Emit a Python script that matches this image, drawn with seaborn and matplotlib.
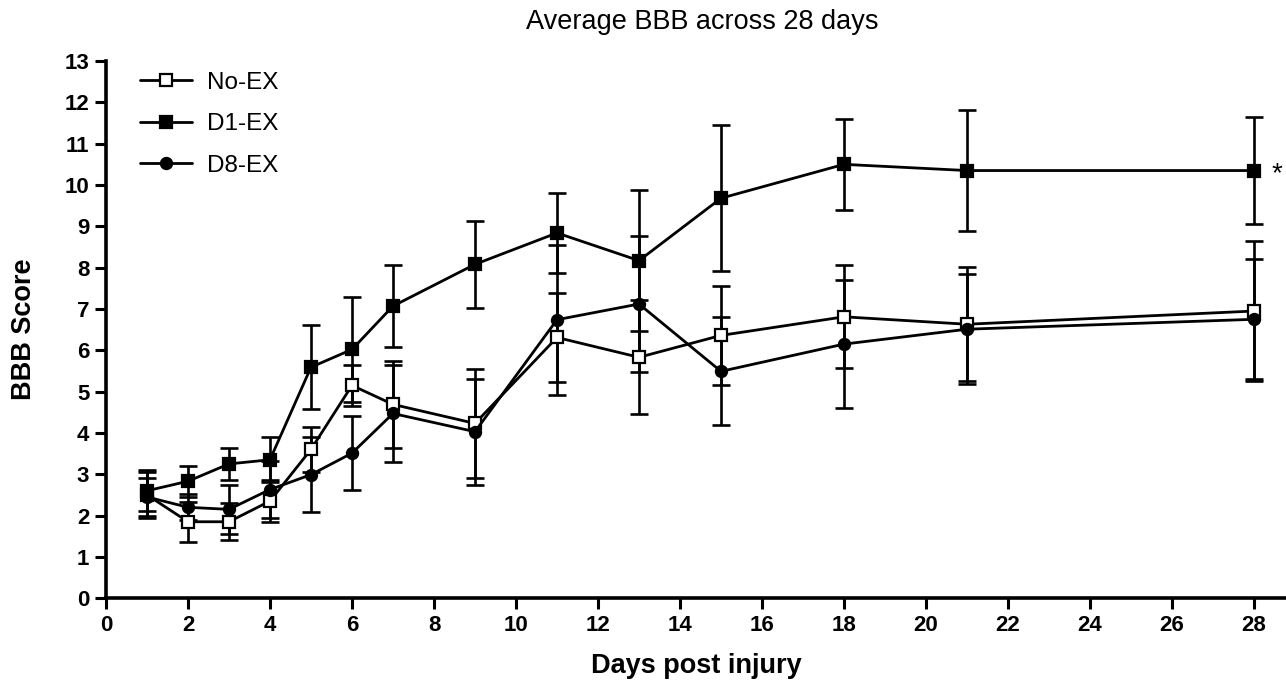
"""Average BBB score across 28 days for three exercise groups."""
import matplotlib
matplotlib.use('Agg')
import matplotlib.pyplot as plt
import seaborn as sns
import pandas as pd

days = [1, 2, 3, 4, 5, 6, 7, 9, 11, 13, 15, 18, 21, 28]

no_ex = [2.50, 1.85, 1.85, 2.35, 3.60, 5.15, 4.69, 4.23, 6.31, 5.83, 6.36, 6.81, 6.63, 6.95]
no_ex_err = [0.55, 0.48, 0.45, 0.50, 0.55, 0.50, 1.05, 1.32, 1.07, 1.38, 1.20, 1.25, 1.38, 1.70]

d1_ex = [2.60, 2.83, 3.25, 3.35, 5.59, 6.02, 7.07, 8.08, 8.84, 8.17, 9.68, 10.50, 10.35, 10.35]
d1_ex_err = [0.50, 0.38, 0.38, 0.54, 1.02, 1.27, 1.00, 1.05, 0.96, 1.71, 1.77, 1.10, 1.47, 1.30]

d8_ex = [2.45, 2.20, 2.15, 2.63, 2.99, 3.51, 4.47, 4.03, 6.74, 7.12, 5.49, 6.15, 6.51, 6.75]
d8_ex_err = [0.45, 0.31, 0.60, 0.70, 0.90, 0.90, 1.18, 1.28, 1.82, 1.65, 1.31, 1.54, 1.33, 1.45]

groups = ['No-EX', 'D1-EX', 'D8-EX']
means = [no_ex, d1_ex, d8_ex]
errs = [no_ex_err, d1_ex_err, d8_ex_err]

rows = []
for g, m, e in zip(groups, means, errs):
    for d, v, s in zip(days, m, e):
        rows.append({'day': d, 'score': v, 'sem': s, 'group': g})
df = pd.DataFrame(rows)

sns.set_style('ticks')
plt.rcParams['font.family'] = ['Liberation Sans', 'DejaVu Sans']
plt.rcParams.update({'text.color': 'black', 'axes.labelcolor': 'black',
                     'xtick.color': 'black', 'ytick.color': 'black',
                     'axes.edgecolor': 'black'})

fig = plt.figure(figsize=(12.86, 6.86), dpi=100)
ax = fig.add_axes([0.0824, 0.128, 0.9176, 0.783])

styles = {
    'No-EX': dict(marker='s', markerfacecolor='white', markersize=9),
    'D1-EX': dict(marker='s', markerfacecolor='black', markersize=9),
    'D8-EX': dict(marker='o', markerfacecolor='black', markersize=8),
}

for g in groups:
    sub = df[df['group'] == g]
    ax.errorbar(sub['day'], sub['score'], yerr=sub['sem'], fmt='none',
                ecolor='black', elinewidth=1.9, capsize=6.5, capthick=1.9, zorder=2)
    sns.lineplot(data=sub, x='day', y='score', ax=ax, color='black', linewidth=2,
                 markeredgecolor='black', markeredgewidth=1.6, label=g, zorder=3,
                 **styles[g])

ax.set_xlim(0, 28.78)
ax.set_ylim(0, 13)
ax.set_xticks(range(0, 29, 2))
ax.set_yticks(range(0, 14))
for lab in ax.get_xticklabels() + ax.get_yticklabels():
    lab.set_fontweight('bold')
    lab.set_fontsize(16)
ax.tick_params(axis='both', length=8, width=2.2, direction='out', pad=4, colors='black')

sns.despine(ax=ax)
ax.spines['left'].set_linewidth(2.6)
ax.spines['bottom'].set_linewidth(2.6)
ax.spines['left'].set_bounds(0, 13)

ax.set_xlabel('Days post injury', fontsize=19.5, fontweight='bold', labelpad=12)
ax.set_ylabel('BBB Score', fontsize=19.5, fontweight='bold', labelpad=20)
fig.text(0.546, 0.968, 'Average BBB across 28 days', ha='center', va='center', fontsize=19.5)

# significance marker, pulled in so it is not clipped by the figure edge
ax.text(28.42, d1_ex[-1] - 0.1, '*', fontsize=20, ha='left', va='center')

ax.legend(loc='upper left', bbox_to_anchor=(0.029, 0.98), frameon=False,
          borderaxespad=0, borderpad=0,
          fontsize=17.5, handlelength=2.15, labelspacing=0.8, handletextpad=0.6)

fig.savefig('out.png', dpi=100, facecolor='white')
